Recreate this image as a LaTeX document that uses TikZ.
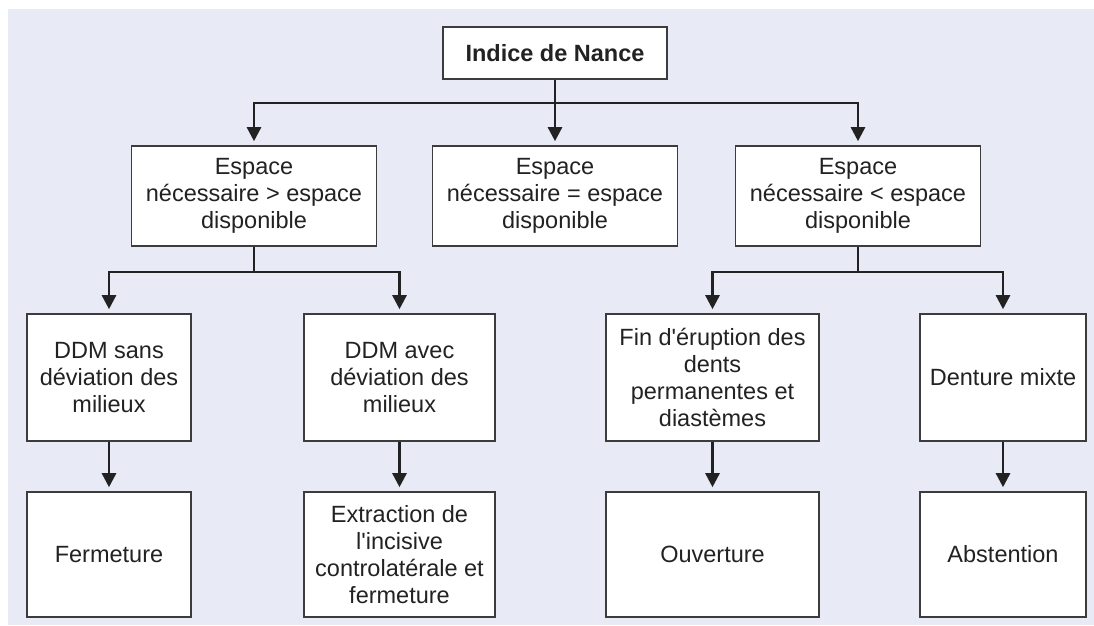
\documentclass[tikz,border=0pt]{standalone}
\usepackage{fontspec}
\setmainfont{Liberation Sans}
\usetikzlibrary{arrows.meta,positioning}
\definecolor{fondnance}{RGB}{232,234,246}
\definecolor{traitnance}{RGB}{34,34,34}
\definecolor{bordnance}{RGB}{60,60,60}

\begin{document}
\begin{tikzpicture}[%
    x=1pt, y=-1pt,              % pixel-like units, top-to-bottom
    >={Triangle[width=14pt,length=14pt]},
    ]
% -------------------------------------------------
% Box and connector styles
\tikzset{
  base/.style={draw=bordnance, line width=1.6pt, fill=white, align=center,
    text=traitnance, font={\fontsize{23.5}{27}\selectfont}, inner sep=0pt},
  titre/.style={base, minimum width=224pt, minimum height=52pt,
    font={\fontsize{23.5}{27}\selectfont\bfseries}},
  espace/.style={base, minimum width=245pt, minimum height=100pt},
  choix/.style={base, minimum height=127pt},
  action/.style={base, minimum height=125pt},
  fleche/.style={->, draw=traitnance, line width=2.6pt, shorten >=4pt},
  ligne/.style={draw=traitnance, line width=2.6pt}
}
% -------------------------------------------------
% Background and bounding box
\useasboundingbox (0,0) rectangle (1094,625);
\fill[fondnance] (8,9) rectangle (1094,625);
% -------------------------------------------------
% Nodes
\node [titre] (nance) at (555,53) {Indice de Nance};

\node [espace] (esp1) at (254,196) {Espace\\nécessaire > espace\\disponible};
\node [espace] (esp2) at (555,196) {Espace\\nécessaire = espace\\disponible};
\node [espace] (esp3) at (858,196) {Espace\\nécessaire < espace\\disponible};

\node [choix, minimum width=164pt] (ddm1) at (109,377.5) {DDM sans\\déviation des\\milieux};
\node [choix, minimum width=191pt] (ddm2) at (399.5,377.5) {DDM avec\\déviation des\\milieux};
\node [choix, minimum width=213pt] (fin)  at (712.5,377.5) {Fin d\textquotesingle éruption des\\dents\\permanentes et\\diastèmes};
\node [choix, minimum width=166pt] (mixte) at (1003,377.5) {Denture mixte};

\node [action, minimum width=164pt] (ferm) at (109,554.5) {Fermeture};
\node [action, minimum width=191pt] (extr) at (399.5,554.5) {Extraction de\\l\textquotesingle incisive\\controlatérale et\\fermeture};
\node [action, minimum width=213pt] (ouv)  at (712.5,554.5) {Ouverture};
\node [action, minimum width=166pt] (abst) at (1003,554.5) {Abstention};
% -------------------------------------------------
% Connectors
\coordinate (bus0) at (555,103);
\coordinate (bus1) at (254,272);
\coordinate (bus3) at (858,272);

\draw [fleche] (nance.south) -- (esp2.north);
\draw [fleche] (bus0) -| (esp1.north);
\draw [fleche] (bus0) -| (esp3.north);

\draw [ligne] (esp1.south) -- (bus1);
\draw [fleche] (bus1) -| (ddm1.north);
\draw [fleche] (bus1) -| (ddm2.north);

\draw [ligne] (esp3.south) -- (bus3);
\draw [fleche] (bus3) -| (fin.north);
\draw [fleche] (bus3) -| (mixte.north);

\draw [fleche] (ddm1) -- (ferm);
\draw [fleche] (ddm2) -- (extr);
\draw [fleche] (fin) -- (ouv);
\draw [fleche] (mixte) -- (abst);
% -------------------------------------------------
\end{tikzpicture}
\end{document}
